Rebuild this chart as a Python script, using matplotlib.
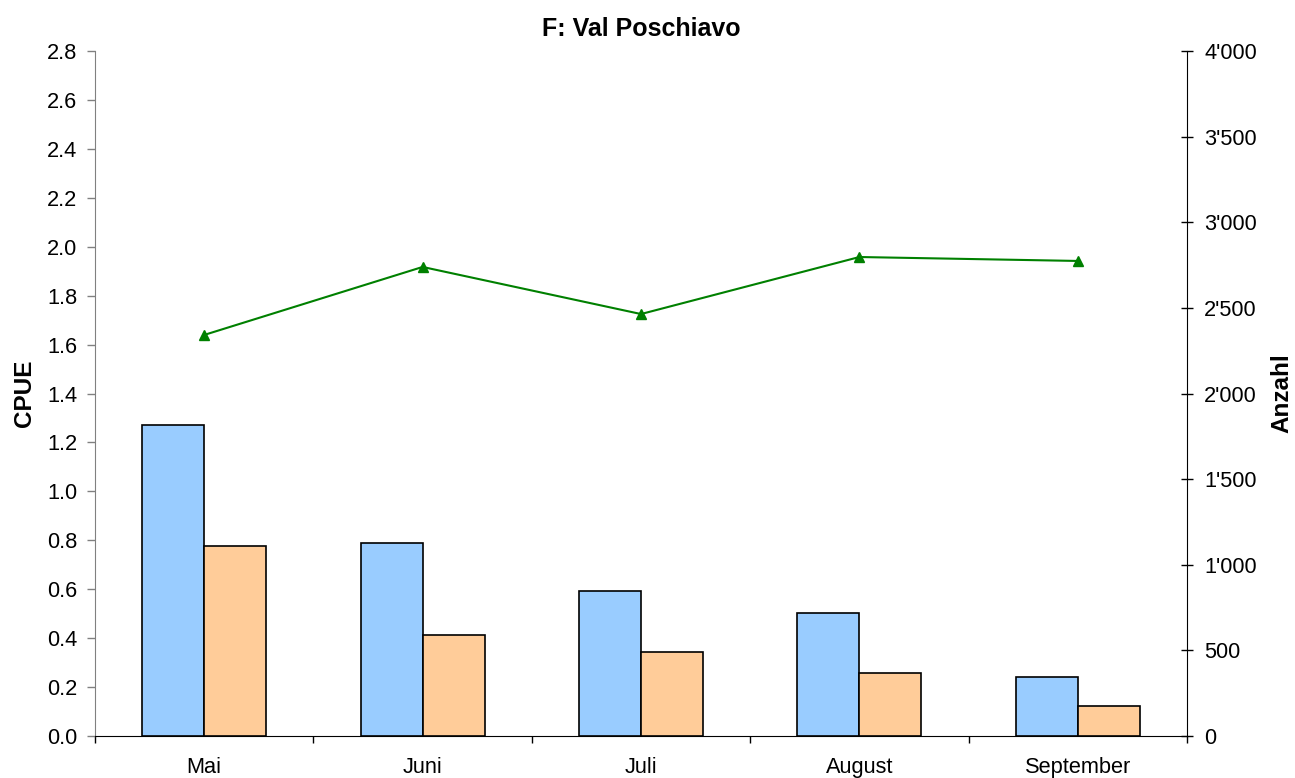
import matplotlib
matplotlib.use("Agg")
import matplotlib.pyplot as plt
from matplotlib.ticker import FuncFormatter, FixedLocator
import numpy as np

months = ["Mai", "Juni", "Juli", "August", "September"]
cpue_blue = [1.27, 0.79, 0.593, 0.503, 0.241]
cpue_orange = [0.777, 0.413, 0.343, 0.258, 0.123]
anzahl = [2342, 2739, 2464, 2797, 2774]
title = "F: Val Poschiavo"

plt.rcParams['font.family'] = ['Liberation Sans', 'DejaVu Sans']

fig = plt.figure(figsize=(12.95, 7.78), dpi=100)
ax = fig.add_axes([95/1295, 42/778, 1092/1295, 685/778])
ax2 = ax.twinx()

x = np.arange(len(months))
w = 0.284
ax.bar(x - w/2, cpue_blue, width=w, color="#99CCFF", edgecolor="black", linewidth=1.2, zorder=3)
ax.bar(x + w/2, cpue_orange, width=w, color="#FFCC99", edgecolor="black", linewidth=1.2, zorder=3)
ax2.plot(x, anzahl, color="#008000", marker="^", markersize=7.5, linewidth=1.5)

ax.set_xlim(-0.5, len(months) - 0.5)
ax.set_ylim(0, 2.8)
ax.set_yticks(np.arange(0, 2.81, 0.2))
ax.yaxis.set_major_formatter(FuncFormatter(lambda v, p: f"{v:.1f}"))
ax2.set_ylim(0, 4000)
ax2.set_yticks(np.arange(0, 4001, 500))
ax2.yaxis.set_major_formatter(FuncFormatter(lambda v, p: f"{int(v):,}".replace(",", "'")))

fs = 15.7
ax.set_xticks(x)
ax.set_xticklabels(months)
ax.xaxis.set_minor_locator(FixedLocator(np.arange(-0.5, len(months), 1.0)))
ax.tick_params(axis="x", which="major", length=0, labelsize=fs, pad=15)
ax.tick_params(axis="x", which="minor", length=5, width=1, color="black", direction="out")
ax.tick_params(axis="y", labelsize=fs, length=5.8, width=1, color="#808080", direction="out", pad=7)
ax2.tick_params(axis="y", labelsize=fs, length=8.6, width=1, color="black", direction="inout", pad=8)

ax.spines["top"].set_visible(False)
ax2.spines["top"].set_visible(False)
ax.spines["right"].set_visible(False)
ax2.spines["left"].set_visible(False)
ax.spines["left"].set_color("#808080")
ax2.spines["bottom"].set_visible(False)
ax.spines["bottom"].set_color("black")

ax.set_ylabel("CPUE", fontsize=17.5, fontweight="bold", labelpad=8)
ax2.set_ylabel("Anzahl", fontsize=17.5, fontweight="bold", labelpad=10)
ax.set_title(title, fontsize=18, fontweight="bold", pad=11)

fig.savefig("out.png", dpi=100)
